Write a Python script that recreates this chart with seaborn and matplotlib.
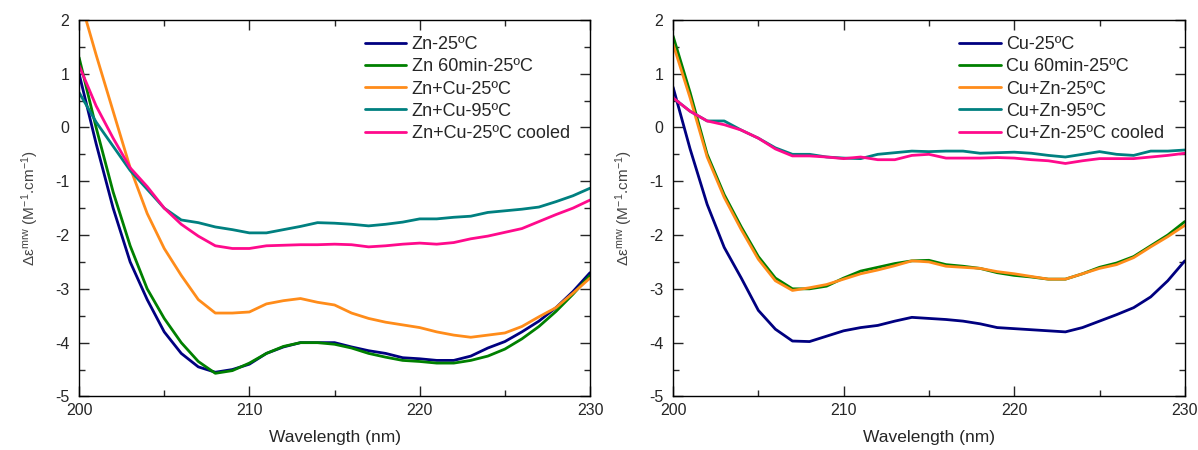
import numpy as np
import pandas as pd
import seaborn as sns
import matplotlib.pyplot as plt
from matplotlib.ticker import MultipleLocator

# wavelength grid (nm)
wavelength = list(range(200, 231))

# --- left panel: Zn first -------------------------------------------------
zn_25 = [1.0, -0.3, -1.5, -2.5, -3.2, -3.8, -4.2, -4.45, -4.55, -4.5, -4.4,
         -4.2, -4.08, -4.0, -4.0, -4.0, -4.08, -4.15, -4.2, -4.28, -4.3,
         -4.33, -4.33, -4.25, -4.1, -3.98, -3.8, -3.6, -3.35, -3.05, -2.7]
zn_60min = [1.3, 0.0, -1.2, -2.2, -3.0, -3.55, -4.0, -4.35, -4.57, -4.52, -4.38,
            -4.2, -4.07, -4.0, -4.0, -4.03, -4.1, -4.2, -4.27, -4.33, -4.35,
            -4.38, -4.38, -4.33, -4.25, -4.12, -3.93, -3.7, -3.42, -3.1, -2.75]
zncu_25 = [2.45, 1.35, 0.3, -0.75, -1.6, -2.25, -2.75, -3.2, -3.45, -3.45, -3.43,
           -3.28, -3.22, -3.18, -3.25, -3.3, -3.45, -3.55, -3.62, -3.67, -3.72,
           -3.8, -3.86, -3.9, -3.86, -3.82, -3.7, -3.52, -3.35, -3.08, -2.8]
zncu_95 = [0.65, 0.1, -0.35, -0.8, -1.15, -1.5, -1.72, -1.77, -1.85, -1.9, -1.96,
           -1.96, -1.9, -1.84, -1.77, -1.78, -1.8, -1.83, -1.8, -1.76, -1.7,
           -1.7, -1.67, -1.65, -1.58, -1.55, -1.52, -1.48, -1.38, -1.27, -1.13]
zncu_cooled = [1.15, 0.4, -0.2, -0.75, -1.1, -1.5, -1.8, -2.02, -2.2, -2.25, -2.25,
               -2.2, -2.19, -2.18, -2.18, -2.17, -2.18, -2.22, -2.2, -2.17, -2.15,
               -2.17, -2.14, -2.07, -2.02, -1.95, -1.88, -1.75, -1.62, -1.5, -1.35]

# --- right panel: Cu first ------------------------------------------------
cu_25 = [0.75, -0.4, -1.43, -2.23, -2.8, -3.4, -3.75, -3.97, -3.98, -3.88, -3.78,
         -3.72, -3.68, -3.6, -3.53, -3.55, -3.57, -3.6, -3.65, -3.72, -3.74,
         -3.76, -3.78, -3.8, -3.72, -3.6, -3.48, -3.35, -3.15, -2.85, -2.48]
cu_60min = [1.7, 0.65, -0.5, -1.25, -1.85, -2.4, -2.8, -3.0, -3.0, -2.95, -2.8,
            -2.67, -2.6, -2.53, -2.48, -2.47, -2.55, -2.58, -2.62, -2.7, -2.75,
            -2.78, -2.82, -2.82, -2.72, -2.6, -2.52, -2.4, -2.2, -2.0, -1.75]
cuzn_25 = [1.55, 0.55, -0.55, -1.3, -1.9, -2.45, -2.85, -3.03, -2.98, -2.92, -2.82,
           -2.72, -2.65, -2.57, -2.48, -2.5, -2.58, -2.6, -2.62, -2.68, -2.72,
           -2.77, -2.82, -2.82, -2.72, -2.62, -2.55, -2.42, -2.22, -2.03, -1.82]
cuzn_95 = [0.55, 0.3, 0.12, 0.12, -0.05, -0.2, -0.38, -0.5, -0.5, -0.55, -0.57,
           -0.58, -0.5, -0.47, -0.44, -0.45, -0.44, -0.44, -0.48, -0.47, -0.46,
           -0.48, -0.52, -0.55, -0.5, -0.45, -0.5, -0.52, -0.44, -0.44, -0.42]
cuzn_cooled = [0.55, 0.3, 0.12, 0.05, -0.05, -0.2, -0.4, -0.53, -0.53, -0.55, -0.58,
               -0.55, -0.6, -0.6, -0.52, -0.5, -0.57, -0.57, -0.57, -0.56, -0.57,
               -0.6, -0.62, -0.67, -0.62, -0.58, -0.58, -0.58, -0.55, -0.52, -0.48]

labels_zn = ['Zn-25ºC', 'Zn 60min-25ºC', 'Zn+Cu-25ºC', 'Zn+Cu-95ºC', 'Zn+Cu-25ºC cooled']
labels_cu = ['Cu-25ºC', 'Cu 60min-25ºC', 'Cu+Zn-25ºC', 'Cu+Zn-95ºC', 'Cu+Zn-25ºC cooled']
colors = ['#000080', '#008000', '#FF8C1A', '#008080', '#FF0A8C']


def to_long(labels, series):
    frames = [pd.DataFrame({'wl': wavelength, 'de': s, 'sample': lab})
              for lab, s in zip(labels, series)]
    return pd.concat(frames, ignore_index=True)


df_zn = to_long(labels_zn, [zn_25, zn_60min, zncu_25, zncu_95, zncu_cooled])
df_cu = to_long(labels_cu, [cu_25, cu_60min, cuzn_25, cuzn_95, cuzn_cooled])

sns.set_style("white")
plt.rcParams['font.family'] = ['Liberation Sans', 'DejaVu Sans']
plt.rcParams['mathtext.default'] = 'regular'
plt.rcParams['axes.unicode_minus'] = False

fig = plt.figure(figsize=(11.98, 4.5), dpi=100)
ax1 = fig.add_axes([0.066, 0.119, 0.4265, 0.837])
ax2 = fig.add_axes([0.5618, 0.119, 0.4272, 0.837])

for ax, df, labels in [(ax1, df_zn, labels_zn), (ax2, df_cu, labels_cu)]:
    sns.lineplot(data=df, x='wl', y='de', hue='sample', hue_order=labels,
                 palette=colors, linewidth=2.0, ax=ax)
    ax.set_xlim(200, 230)
    ax.set_ylim(-5, 2)
    ax.xaxis.set_major_locator(MultipleLocator(10))
    ax.xaxis.set_minor_locator(MultipleLocator(5))
    ax.yaxis.set_major_locator(MultipleLocator(1))
    ax.yaxis.set_minor_locator(MultipleLocator(0.5))
    ax.tick_params(which='both', direction='in', top=True, right=True,
                   bottom=True, left=True, labelsize=11.5)
    ax.tick_params(axis='x', pad=5)
    ax.tick_params(axis='y', pad=7)
    ax.tick_params(which='major', length=7, width=1)
    ax.tick_params(which='minor', length=4, width=1)
    for sp in ax.spines.values():
        sp.set_color('black')
        sp.set_linewidth(1)
    ax.set_xlabel('Wavelength (nm)', fontsize=12.5, labelpad=8)
    ax.set_ylabel(r'$\Delta\epsilon^{mrw}$ (M$^{-1}$.cm$^{-1}$)', fontsize=11,
                  color='#444444', labelpad=10)
    ax.legend(title=None, frameon=False, loc='upper right', bbox_to_anchor=(0.992, 1.0),
              fontsize=13, handlelength=2.3, handletextpad=0.3, labelspacing=0.29)

fig.savefig('out.png', dpi=100)
